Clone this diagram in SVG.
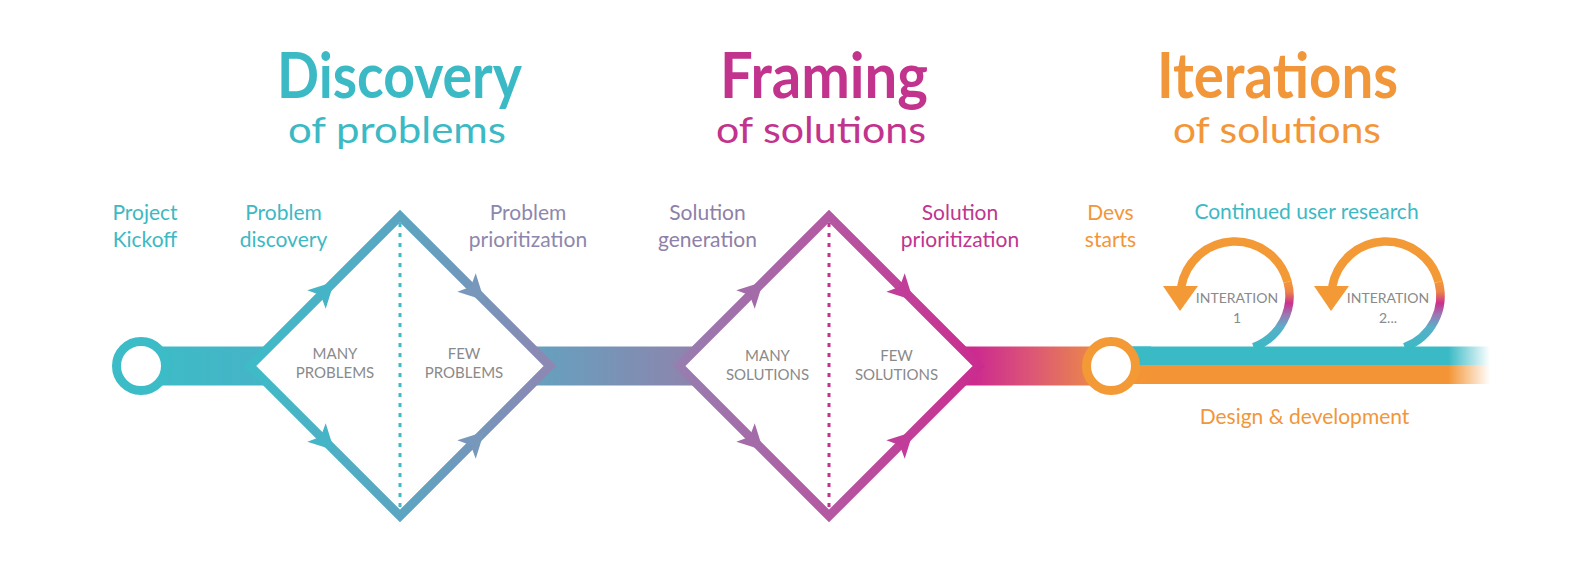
<svg xmlns="http://www.w3.org/2000/svg" width="1596" height="568" viewBox="0 0 1596 568">
<style>
text{font-family:"Lato","Open Sans","Liberation Sans",sans-serif;text-anchor:middle}
.title{font-size:63px;font-weight:700}
.sub{font-size:37px;font-weight:400}
.lbl{font-size:21px;font-weight:400}
.in{font-size:15px;fill:#8a8a8a}
.it{font-size:14px;fill:#8a8a8a}
.teal{fill:#3cb9c4}
.mag{fill:#c1338c}
.ora{fill:#f2963a}
.dot{stroke-width:3;stroke-dasharray:4 6;fill:none}
</style>
<defs>
<linearGradient id="gBar1" gradientUnits="userSpaceOnUse" x1="141" y1="0" x2="275" y2="0"><stop offset="0" stop-color="#3cbcc7"/><stop offset="1" stop-color="#47b3c6"/></linearGradient>
<linearGradient id="gD1" gradientUnits="userSpaceOnUse" x1="245" y1="0" x2="555" y2="0"><stop offset="0" stop-color="#3dbcc8"/><stop offset="0.5" stop-color="#5ba5c1"/><stop offset="1" stop-color="#8f86b3"/></linearGradient>
<linearGradient id="gBar2" gradientUnits="userSpaceOnUse" x1="545" y1="0" x2="690" y2="0"><stop offset="0" stop-color="#679fbd"/><stop offset="1" stop-color="#8d85ae"/></linearGradient>
<linearGradient id="gD2" gradientUnits="userSpaceOnUse" x1="674" y1="0" x2="984" y2="0"><stop offset="0" stop-color="#967fb0"/><stop offset="0.5" stop-color="#b458a2"/><stop offset="1" stop-color="#cb2b8e"/></linearGradient>
<linearGradient id="gBar3" gradientUnits="userSpaceOnUse" x1="975" y1="0" x2="1100" y2="0"><stop offset="0" stop-color="#cc2a8f"/><stop offset="0.45" stop-color="#dc5676"/><stop offset="1" stop-color="#ec8c46"/></linearGradient>
<linearGradient id="gTeal" gradientUnits="userSpaceOnUse" x1="1111" y1="0" x2="1490" y2="0"><stop offset="0" stop-color="#3abac5"/><stop offset="0.89" stop-color="#3abac5"/><stop offset="1" stop-color="#3abac5" stop-opacity="0"/></linearGradient>
<linearGradient id="gOra" gradientUnits="userSpaceOnUse" x1="1111" y1="0" x2="1490" y2="0"><stop offset="0" stop-color="#f39536"/><stop offset="0.89" stop-color="#f39536"/><stop offset="1" stop-color="#f39536" stop-opacity="0"/></linearGradient>
<linearGradient id="gLoop" gradientUnits="userSpaceOnUse" x1="0" y1="280" x2="0" y2="348"><stop offset="0" stop-color="#f39a36"/><stop offset="0.17" stop-color="#ee8448"/><stop offset="0.34" stop-color="#c9318f"/><stop offset="0.51" stop-color="#9a78b3"/><stop offset="0.69" stop-color="#5aaec8"/><stop offset="1" stop-color="#3abac5"/></linearGradient>
<polygon id="ah" points="13,0 -12,-13 -6,0 -12,13"/>
</defs>
<rect width="1596" height="568" fill="#ffffff"/>

<g id="titles">
<text class="title" x="399.5" y="98" fill="#3bbac6" textLength="245" lengthAdjust="spacingAndGlyphs">Discovery</text>
<text class="sub" x="397" y="143" fill="#3bbac6" textLength="218" lengthAdjust="spacingAndGlyphs">of problems</text>
<text class="title" x="824" y="98" fill="#c1338c" textLength="208" lengthAdjust="spacingAndGlyphs">Framing</text>
<text class="sub" x="821" y="143" fill="#c1338c" textLength="210" lengthAdjust="spacingAndGlyphs">of solutions</text>
<text class="title" x="1277.5" y="98" fill="#f2963a" textLength="241" lengthAdjust="spacingAndGlyphs">Iterations</text>
<text class="sub" x="1277" y="143" fill="#f2963a" textLength="208" lengthAdjust="spacingAndGlyphs">of solutions</text>
</g>

<g id="connectors">
<rect x="141" y="346.5" width="134" height="39" fill="url(#gBar1)"/>
<rect x="530" y="346.5" width="170" height="39" fill="url(#gBar2)"/>
<rect x="960" y="346.5" width="151" height="39" fill="url(#gBar3)"/>
<rect x="1111" y="346.5" width="379" height="18.5" fill="url(#gTeal)"/>
<rect x="1111" y="365" width="379" height="19" fill="url(#gOra)"/>
</g>

<g id="kickoff">
<circle cx="141" cy="366" r="24.5" fill="#ffffff" stroke="#3cbcc7" stroke-width="9"/>
<text class="lbl teal" x="145" y="219.5">Project</text>
<text class="lbl teal" x="145" y="247">Kickoff</text>
</g>

<g id="discovery">
<polygon points="250,366 400,216 550,366 400,516" fill="#ffffff" stroke="url(#gD1)" stroke-width="9" stroke-linejoin="miter"/>
<line class="dot" x1="400" y1="223" x2="400" y2="510" stroke="#3dbcc8"/>
<use href="#ah" fill="#45b4c6" transform="translate(325,291) rotate(-45)"/>
<use href="#ah" fill="#7898bb" transform="translate(475,291) rotate(45)"/>
<use href="#ah" fill="#45b4c6" transform="translate(325,441) rotate(45)"/>
<use href="#ah" fill="#7898bb" transform="translate(475,441) rotate(-45)"/>
<text class="in" x="335" y="358.5">MANY</text>
<text class="in" x="335" y="377.5">PROBLEMS</text>
<text class="in" x="464" y="358.5">FEW</text>
<text class="in" x="464" y="377.5">PROBLEMS</text>
<text class="lbl teal" x="283.5" y="219.5">Problem</text>
<text class="lbl teal" x="283.5" y="247">discovery</text>
<text class="lbl" x="528" y="219.5" fill="#8d87ad">Problem</text>
<text class="lbl" x="528" y="247" fill="#8d87ad">prioritization</text>
</g>

<g id="framing">
<polygon points="679,366 829,216 979,366 829,516" fill="#ffffff" stroke="url(#gD2)" stroke-width="9" stroke-linejoin="miter"/>
<line class="dot" x1="829" y1="223" x2="829" y2="510" stroke="#c0338f"/>
<use href="#ah" fill="#a46ba9" transform="translate(754,291) rotate(-45)"/>
<use href="#ah" fill="#c13d99" transform="translate(904,291) rotate(45)"/>
<use href="#ah" fill="#a46ba9" transform="translate(754,441) rotate(45)"/>
<use href="#ah" fill="#c13d99" transform="translate(904,441) rotate(-45)"/>
<text class="in" x="767.5" y="360.5">MANY</text>
<text class="in" x="767.5" y="380">SOLUTIONS</text>
<text class="in" x="896.5" y="360.5">FEW</text>
<text class="in" x="896.5" y="380">SOLUTIONS</text>
<text class="lbl" x="707.5" y="219.5" fill="#8e80a8">Solution</text>
<text class="lbl" x="707.5" y="247" fill="#8e80a8">generation</text>
<text class="lbl" x="960" y="219.5" fill="#c0358f">Solution</text>
<text class="lbl" x="960" y="247" fill="#c0358f">prioritization</text>
</g>

<g id="loop-1">
<path d="M 1181.3 286.5 A 54.5 54.5 0 0 1 1287.6 281.9" fill="none" stroke="#f39a36" stroke-width="8.5"/>
<path d="M 1287.6 281.9 A 54.5 54.5 0 0 1 1253.6 347.2" fill="none" stroke="url(#gLoop)" stroke-width="8.5"/>
<polygon points="1163,286 1198,286 1180,311" fill="#f39a36"/>
<text class="it" x="1237" y="303">INTERATION</text>
<text class="it" x="1237" y="322.5">1</text>
</g>

<g id="loop-2">
<path d="M 1332.3 286.5 A 54.5 54.5 0 0 1 1438.6 281.9" fill="none" stroke="#f39a36" stroke-width="8.5"/>
<path d="M 1438.6 281.9 A 54.5 54.5 0 0 1 1404.6 347.2" fill="none" stroke="url(#gLoop)" stroke-width="8.5"/>
<polygon points="1314,286 1349,286 1331,311" fill="#f39a36"/>
<text class="it" x="1388" y="303">INTERATION</text>
<text class="it" x="1388" y="322.5">2...</text>
</g>

<g id="devs">
<rect x="1111" y="346.5" width="40" height="18.5" fill="#3abac5"/>
<rect x="1111" y="365" width="40" height="19" fill="#f39536"/>
<circle cx="1111" cy="366" r="24.5" fill="#ffffff" stroke="#f39a36" stroke-width="9"/>
<text class="lbl ora" x="1110.5" y="219.5">Devs</text>
<text class="lbl ora" x="1110.5" y="247">starts</text>
<text class="lbl teal" x="1306.5" y="219">Continued user research</text>
<text class="lbl ora" x="1304.5" y="423.5">Design &amp; development</text>
</g>
</svg>
